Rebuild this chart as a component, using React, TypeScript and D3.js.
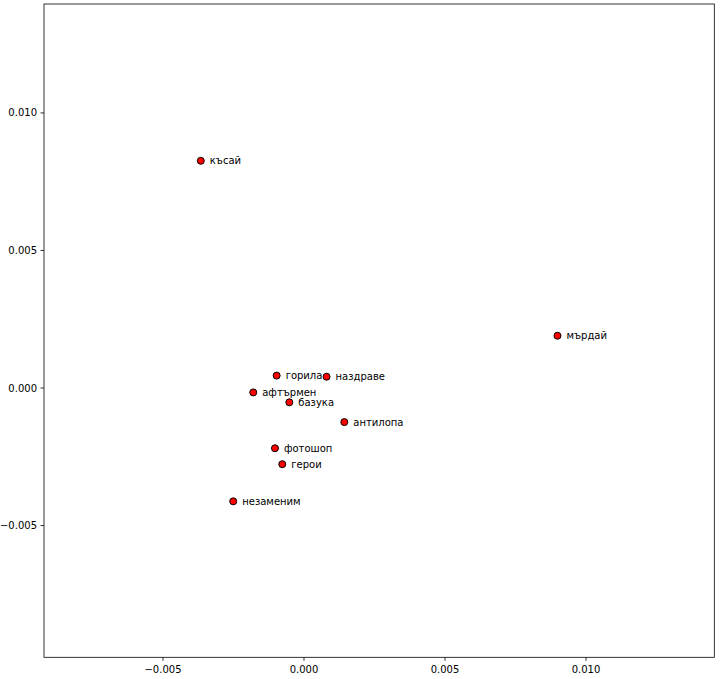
import React from "react";
import * as d3 from "d3";

const words = ["късай", "мърдай", "горила", "наздраве", "афтърмен", "базука", "антилопа", "фотошоп", "герои", "незаменим"];
const xValues = [-0.00366, 0.00899, -0.00097, 0.00080, -0.00180, -0.00052, 0.00143, -0.00103, -0.00077, -0.00251];
const yValues = [0.00826, 0.00190, 0.00045, 0.00041, -0.00016, -0.00052, -0.00124, -0.00219, -0.00277, -0.00412];
const xTicks = [-0.005, 0.0, 0.005, 0.01];
const yTicks = [-0.005, 0.0, 0.005, 0.01];

const W = 726;
const H = 679;
const left = 44;
const right = 714.3;
const top = 4;
const bottom = 657.3;

export default function App() {
  const x = d3.scaleLinear().domain([-0.00922, 0.01455]).range([left, right]);
  const y = d3.scaleLinear().domain([-0.00979, 0.01396]).range([bottom, top]);
  const fmt = d3.format(".3f");
  const tickLabel = (v: number) => fmt(v).replace("-", "\u2212");
  const font = "DejaVu Sans, sans-serif";
  return (
    <svg width={W} height={H} style={{ position: "absolute", left: 0, top: 0, background: "#fff" }} fontFamily={font}>
      <rect x={left} y={top} width={right - left} height={bottom - top} fill="none" stroke="#000" strokeWidth={0.8} />
      {xTicks.map((t) => (
        <g key={"x" + t}>
          <line x1={x(t)} x2={x(t)} y1={bottom} y2={bottom + 3.5} stroke="#000" strokeWidth={0.8} />
          <text x={x(t)} y={bottom + 16} fontSize={10} textAnchor="middle" fill="#000">{tickLabel(t)}</text>
        </g>
      ))}
      {yTicks.map((t) => (
        <g key={"y" + t}>
          <line x1={left - 3.5} x2={left} y1={y(t)} y2={y(t)} stroke="#000" strokeWidth={0.8} />
          <text x={left - 7} y={y(t)} dy="0.35em" fontSize={10} textAnchor="end" fill="#000">{tickLabel(t)}</text>
        </g>
      ))}
      {words.map((w, i) => (
        <g key={w}>
          <circle cx={x(xValues[i])} cy={y(yValues[i])} r={3.5} fill="#ff0000" stroke="#000" strokeWidth={1} />
          <text x={x(xValues[i]) + 9} y={y(yValues[i])} dy="0.35em" fontSize={10} fill="#000">{w}</text>
        </g>
      ))}
    </svg>
  );
}
